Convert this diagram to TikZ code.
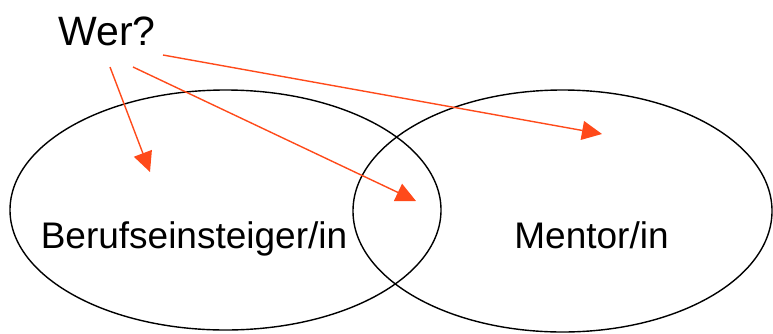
\documentclass[tikz,border=0pt]{standalone}
\usepackage{fontspec}
\setmainfont{Liberation Sans}
\usetikzlibrary{arrows.meta}
\begin{document}
\begin{tikzpicture}[x=1pt,y=-1pt,
  setline/.style={draw=black,line width=1.4pt},
  pointer/.style={draw=arrowred,line width=1.4pt,-{Triangle[length=20pt,width=19pt]}},
  lbl/.style={anchor=base,inner sep=0pt,font=\fontsize{37}{41}\selectfont}]
\definecolor{arrowred}{RGB}{255,74,26}
\useasboundingbox (0,0) rectangle (773,333);
\draw[setline] (225.5,210) ellipse [x radius=215.5, y radius=120];
\draw[setline] (562.5,211) ellipse [x radius=209.5, y radius=121];
\node[lbl] (wer) at (107,45) {\fontsize{41}{45}\selectfont Wer?};
\node[lbl] (beruf) at (194,248) {Berufseinsteiger/in};
\node[lbl] (mentor) at (591.5,248) {Mentor/in};
\coordinate (s1) at (110,67);
\coordinate (s2) at (133,67);
\coordinate (s3) at (163,55);
\coordinate (t1) at (150,172);
\coordinate (t2) at (416,201);
\coordinate (t3) at (602,134);
\draw[pointer] (s1) -- (t1);
\draw[pointer] (s2) -- (t2);
\draw[pointer] (s3) -- (t3);
\end{tikzpicture}
\end{document}
